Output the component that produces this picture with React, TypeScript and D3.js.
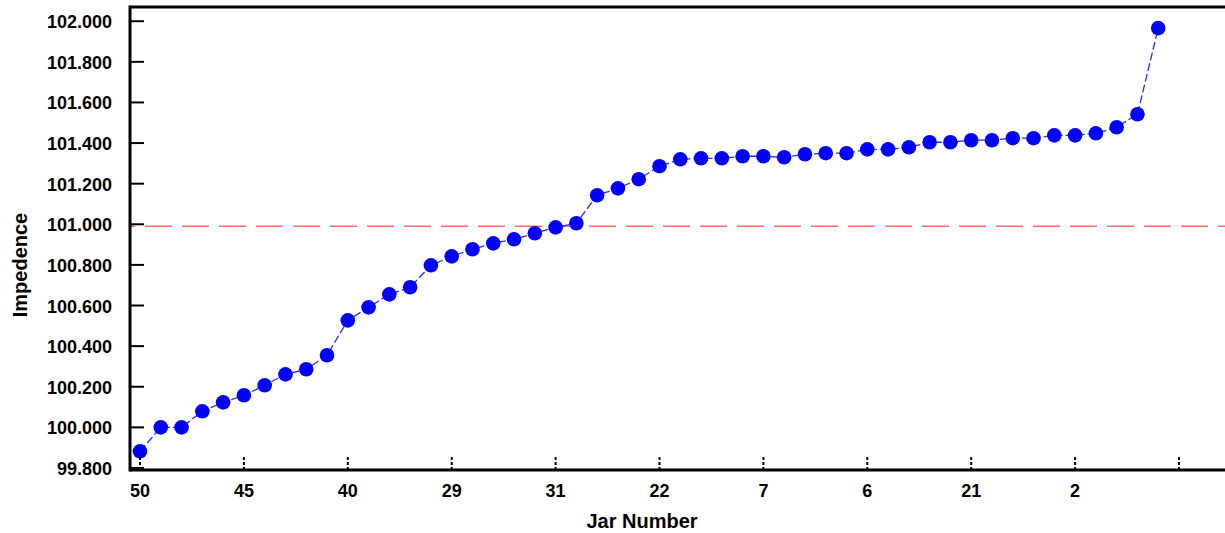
import React from "react";
import * as d3 from "d3";

// Impedence of each jar, sorted ascending (one point per jar)
const impedence: number[] = [
  99.882, 100.0, 100.0, 100.079, 100.123, 100.158, 100.207, 100.261, 100.286, 100.355,
  100.527, 100.591, 100.655, 100.69, 100.798, 100.842, 100.877, 100.906, 100.926, 100.956,
  100.985, 101.005, 101.143, 101.177, 101.222, 101.286, 101.32, 101.325, 101.325, 101.335,
  101.335, 101.33, 101.345, 101.35, 101.35, 101.369, 101.369, 101.379, 101.404, 101.404,
  101.414, 101.414, 101.424, 101.424, 101.438, 101.438, 101.448, 101.478, 101.542, 101.966,
];

// Jar-number labels shown under every 5th position
const xTickPositions: number[] = [0, 5, 10, 15, 20, 25, 30, 35, 40, 45, 50];
const xTickLabels: string[] = ["50", "45", "40", "29", "31", "22", "7", "6", "21", "2", ""];

const yTicks: number[] = [99.8, 100.0, 100.2, 100.4, 100.6, 100.8, 101.0, 101.2, 101.4, 101.6, 101.8, 102.0];
const referenceValue = 100.99;

const W = 1225;
const H = 533;
const left = 130;
const right = 1225;
const top = 7;
const bottom = 470;

export default function App() {
  const x = d3.scaleLinear().domain([0, 50]).range([140, 1179]);
  const y = d3.scaleLinear().domain([99.79, 102.07]).range([bottom, top]);
  const fmt = d3.format(".3f");
  const line = d3
    .line<number>()
    .x((_, i) => x(i))
    .y((d) => y(d));

  const font = "'Liberation Sans', Arial, sans-serif";

  return (
    <svg
      width={W}
      height={H}
      style={{ position: "absolute", left: 0, top: 0, background: "#fff" }}
      fontFamily={font}
    >
      <rect x={0} y={0} width={W} height={H} fill="#fff" />
      {/* reference line */}
      <line
        x1={left}
        x2={right}
        y1={y(referenceValue)}
        y2={y(referenceValue)}
        stroke="#ff6b6b"
        strokeWidth={1.6}
        strokeDasharray="27 10"
        strokeDashoffset={22}
      />
      {/* series line */}
      <path d={line(impedence) || ""} fill="none" stroke="#2a2aff" strokeWidth={1.3} strokeDasharray="8 3" />
      {impedence.map((v, i) => (
        <circle key={i} cx={x(i)} cy={y(v)} r={7.3} fill="#0000ff" />
      ))}
      {/* frame */}
      <line x1={left} x2={right} y1={top} y2={top} stroke="#000" strokeWidth={3} />
      <line x1={left} x2={right} y1={bottom} y2={bottom} stroke="#000" strokeWidth={3} />
      <line x1={left} x2={left} y1={top - 1.5} y2={bottom + 1.5} stroke="#000" strokeWidth={3} />
      {/* y ticks */}
      {yTicks.map((t) => (
        <g key={t}>
          <line x1={left} x2={144} y1={y(t)} y2={y(t)} stroke="#000" strokeWidth={2} />
          <text x={112} y={y(t) + 7} textAnchor="end" fontSize={18} fontWeight="bold" fill="#000">
            {fmt(t)}
          </text>
        </g>
      ))}
      {/* x ticks */}
      {xTickPositions.map((p, i) => (
        <g key={p}>
          <line x1={x(p)} x2={x(p)} y1={457} y2={bottom} stroke="#000" strokeWidth={2} strokeDasharray="3 2" />
          <text x={x(p)} y={497} textAnchor="middle" fontSize={18} fontWeight="bold" fill="#000">
            {xTickLabels[i]}
          </text>
        </g>
      ))}
      {/* axis titles */}
      <text x={642} y={528} textAnchor="middle" fontSize={20} fontWeight="bold" fill="#000">
        Jar Number
      </text>
      <text
        transform={`translate(27,265) rotate(-90)`}
        textAnchor="middle"
        fontSize={20}
        fontWeight="bold"
        fill="#000"
      >
        Impedence
      </text>
    </svg>
  );
}
